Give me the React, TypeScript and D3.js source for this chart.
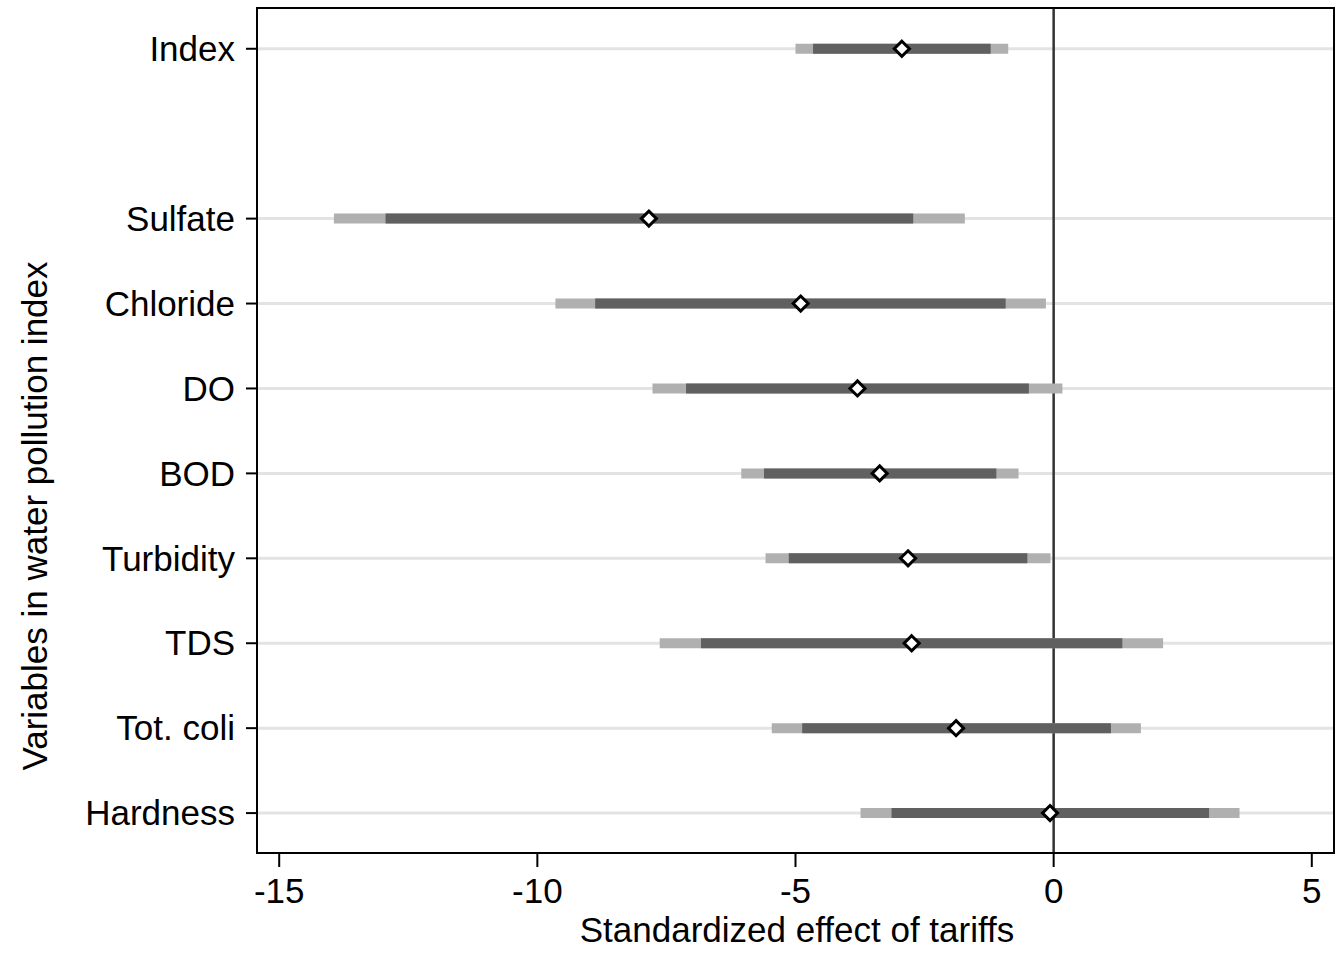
import React from "react";
import * as d3 from "d3";

const categories = ["Index", "Sulfate", "Chloride", "DO", "BOD", "Turbidity", "TDS", "Tot. coli", "Hardness"];
const slots = [10, 8, 7, 6, 5, 4, 3, 2, 1];
const estimates = [-2.94, -7.84, -4.9, -3.8, -3.37, -2.82, -2.75, -1.89, -0.07];
const lo95 = [-5.0, -13.94, -9.65, -7.77, -6.05, -5.58, -7.63, -5.46, -3.74];
const lo90 = [-4.66, -12.94, -8.88, -7.12, -5.61, -5.13, -6.83, -4.87, -3.14];
const hi90 = [-1.22, -2.72, -0.93, -0.48, -1.11, -0.51, 1.33, 1.11, 3.01];
const hi95 = [-0.88, -1.72, -0.15, 0.17, -0.68, -0.06, 2.12, 1.69, 3.6];
const xTicks = [-15, -10, -5, 0, 5];

const W = 1341;
const H = 954;
const left = 257;
const right = 1334;
const top = 8;
const bottom = 853;
const font = "'Liberation Sans', Arial, Helvetica, sans-serif";
const fs = 35;

export default function App() {
  const x = d3.scaleLinear().domain([-15.43, 5.43]).range([left, right]);
  const y = d3.scaleLinear().domain([0.53, 10.48]).range([bottom, top]);
  const diamond = d3.symbol().type(d3.symbolDiamond2).size(145)();

  return (
    <svg width={W} height={H} style={{ position: "absolute", left: 0, top: 0, background: "#fff" }}>
      <rect x={0} y={0} width={W} height={H} fill="#fff" />
      {categories.map((c, i) => (
        <line key={"g" + c} x1={left} x2={right} y1={y(slots[i])} y2={y(slots[i])} stroke="#e3e3e3" strokeWidth={3} />
      ))}
      <line x1={x(0)} x2={x(0)} y1={top} y2={bottom} stroke="#333" strokeWidth={2.5} />
      {categories.map((c, i) => {
        const yy = y(slots[i]);
        return (
          <g key={"b" + c}>
            <line x1={x(lo95[i])} x2={x(hi95[i])} y1={yy} y2={yy} stroke="#b0b0b0" strokeWidth={10} />
            <line x1={x(lo90[i])} x2={x(hi90[i])} y1={yy} y2={yy} stroke="#606060" strokeWidth={10} />
          </g>
        );
      })}
      {categories.map((c, i) => (
        <path
          key={"m" + c}
          d={diamond as string}
          transform={`translate(${x(estimates[i])},${y(slots[i])})`}
          fill="#fff"
          stroke="#000"
          strokeWidth={3}
        />
      ))}
      <rect x={left} y={top} width={right - left} height={bottom - top} fill="none" stroke="#000" strokeWidth={2} />
      {categories.map((c, i) => (
        <g key={"yl" + c}>
          <line x1={left - 11} x2={left} y1={y(slots[i])} y2={y(slots[i])} stroke="#000" strokeWidth={2} />
          <text
            x={left - 22}
            y={y(slots[i])}
            dy="0.35em"
            textAnchor="end"
            fontFamily={font}
            fontSize={fs}
            fill="#000"
          >
            {c}
          </text>
        </g>
      ))}
      {xTicks.map((t) => (
        <g key={"xt" + t}>
          <line x1={x(t)} x2={x(t)} y1={bottom} y2={bottom + 14} stroke="#000" strokeWidth={2} />
          <text x={x(t)} y={903} textAnchor="middle" fontFamily={font} fontSize={fs} fill="#000">
            {t}
          </text>
        </g>
      ))}
      <text x={797} y={942} textAnchor="middle" fontFamily={font} fontSize={fs} fill="#000">
        Standardized effect of tariffs
      </text>
      <text
        transform={`translate(47,516) rotate(-90)`}
        textAnchor="middle"
        fontFamily={font}
        fontSize={fs}
        fill="#000"
      >
        Variables in water pollution index
      </text>
    </svg>
  );
}
